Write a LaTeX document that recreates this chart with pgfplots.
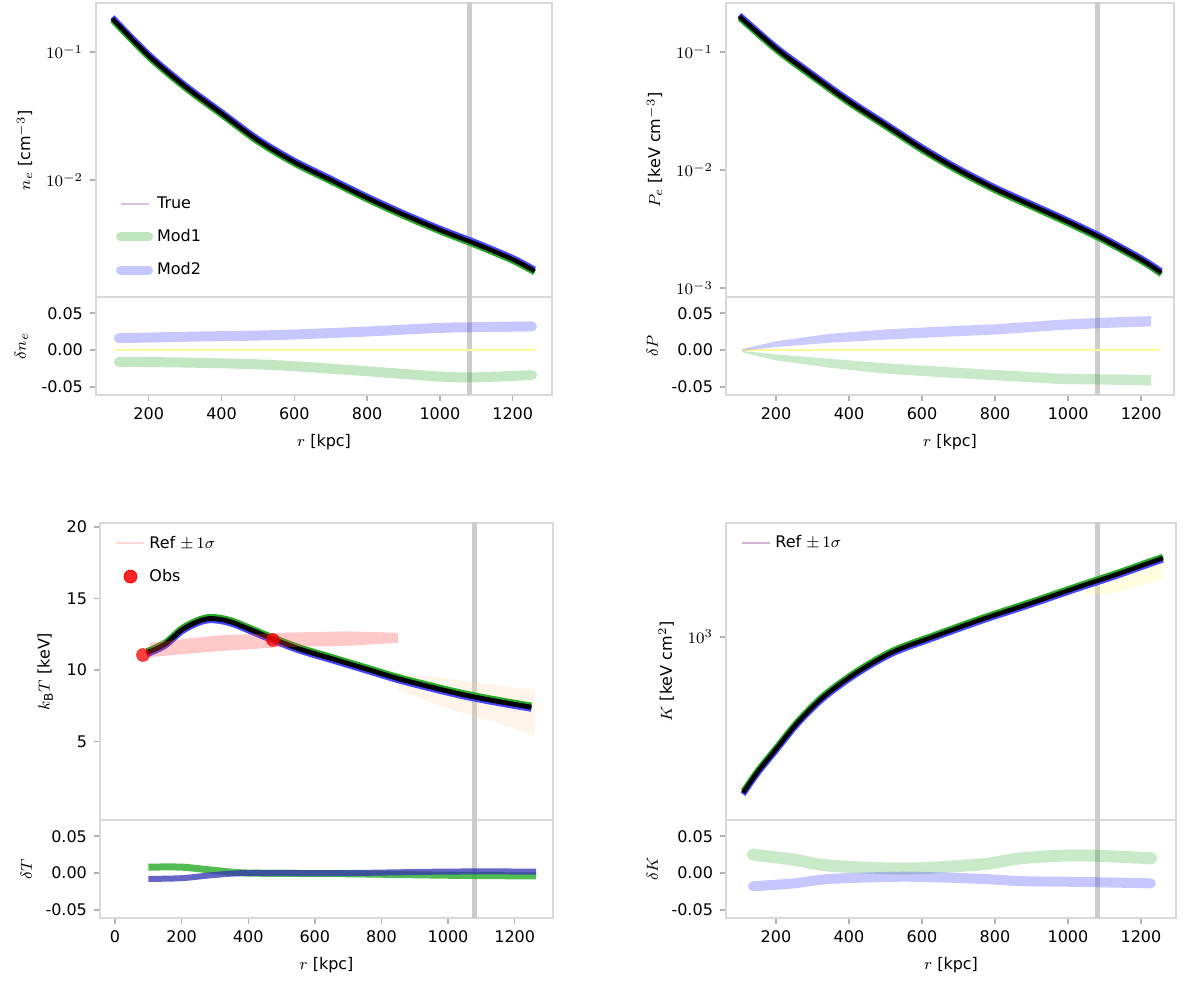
\documentclass[border=0pt]{standalone}
\usepackage{pgfplots}
\pgfplotsset{compat=1.18}
\usepackage{fontspec}
\setmainfont{DejaVu Sans}
\definecolor{gmod}{RGB}{40,170,40}
\definecolor{bmod}{RGB}{70,70,255}
\pgfplotsset{
  base/.style={
    scale only axis,
    font=\fontsize{8}{9.5}\selectfont,
    axis line style={draw=black!15, line width=1.3pt},
    tick style={draw=black!30, line width=0.7pt},
    minor tick style={draw=none},
    tick align=outside,
    major tick length=3pt,
    tick pos=left,
    /pgf/number format/assume math mode=true,
    /pgf/number format/set thousands separator={},
    label style={font=\fontsize{8}{9.5}\selectfont},
    legend style={draw=none, fill=white, fill opacity=0.85, text opacity=1,
      font=\fontsize{8}{9.5}\selectfont, row sep=5pt},
    legend cell align=left,
    legend image code/.code={\draw[#1] (0pt,0pt) -- (14pt,0pt);},
  },
  mainp/.style={base, xtick=\empty},
  ratp/.style={base, ymin=-0.061, ymax=0.072, ytick={-0.05,0,0.05},
     scaled y ticks=false,
     yticklabel style={/pgf/number format/fixed, /pgf/number format/fixed zerofill, /pgf/number format/precision=2},
     xtick={0,200,...,1200}, xlabel={$r$ [kpc]}},
  vline/.style={draw=black!20, line width=2.5pt, forget plot},
}
\begin{document}
\begin{tikzpicture}
\useasboundingbox (0,0) rectangle (600pt,492pt);
\clip (0,0) rectangle (600pt,492pt);

% ---------------- Top left: main ----------------
\begin{axis}[mainp, at={(48pt,343.5pt)}, anchor=south west, width=228pt, height=147pt,
  xmin=55, xmax=1308, ymode=log, ymin=1.22e-3, ymax=0.2415,
  ytick={0.01,0.1}, yticklabels={$10^{-2}$,$10^{-1}$},
  ylabel={$n_e$ [cm$^{-3}$]},
  legend style={at={(0.03,0.37)}, anchor=north west}]
\addplot[vline] coordinates {(1080,1e-4) (1080,1)};
\addplot[smooth, gmod, line width=2.8pt, yshift=-0.8pt, forget plot] coordinates {
(100,0.1820)(200,0.0933)(300,0.0537)(400,0.0331)(500,0.0204)(600,0.0138)(700,0.0100)(800,0.00724)(900,0.00537)(1000,0.00407)(1100,0.00316)(1200,0.00240)(1260,0.00195)};
\addplot[smooth, bmod, line width=2.8pt, yshift=0.8pt, forget plot] coordinates {
(100,0.1820)(200,0.0933)(300,0.0537)(400,0.0331)(500,0.0204)(600,0.0138)(700,0.0100)(800,0.00724)(900,0.00537)(1000,0.00407)(1100,0.00316)(1200,0.00240)(1260,0.00195)};
\addplot[smooth, black, line width=2.2pt, forget plot] coordinates {
(100,0.1820)(200,0.0933)(300,0.0537)(400,0.0331)(500,0.0204)(600,0.0138)(700,0.0100)(800,0.00724)(900,0.00537)(1000,0.00407)(1100,0.00316)(1200,0.00240)(1260,0.00195)};
\addlegendimage{draw=violet!25, line width=1pt}
\addlegendentry{True}
\addlegendimage{draw=gmod, draw opacity=0.3, line width=4.5pt, line cap=round}
\addlegendentry{Mod1}
\addlegendimage{draw=bmod, draw opacity=0.3, line width=4.5pt, line cap=round}
\addlegendentry{Mod2}
\end{axis}
% ---------------- Top left: ratio ----------------
\begin{axis}[ratp, at={(48pt,343.5pt)}, anchor=north west, width=228pt, height=49pt,
  xmin=55, xmax=1308, ylabel={$\delta n_e$}]
\addplot[vline] coordinates {(1080,-1) (1080,1)};
\addplot[draw=yellow!40, line width=0.8pt, forget plot] coordinates {(110,0)(1260,0)};
\addplot[smooth, draw=gmod, draw opacity=0.28, line width=5pt, line cap=round, forget plot] coordinates {
(118,-0.016)(300,-0.017)(527,-0.020)(750,-0.027)(1000,-0.036)(1100,-0.037)(1253,-0.034)};
\addplot[smooth, draw=bmod, draw opacity=0.3, line width=5pt, line cap=round, forget plot] coordinates {
(118,0.016)(300,0.018)(527,0.020)(750,0.024)(1000,0.030)(1100,0.031)(1253,0.032)};
\end{axis}

% ---------------- Top right: main ----------------
\begin{axis}[mainp, at={(363pt,343.5pt)}, anchor=south west, width=224pt, height=147pt,
  xmin=63, xmax=1290, ymode=log, ymin=8.4e-4, ymax=0.26,
  ytick={0.001,0.01,0.1}, yticklabels={$10^{-3}$,$10^{-2}$,$10^{-1}$},
  ylabel={$P_e$ [keV cm$^{-3}$]}]
\addplot[vline] coordinates {(1080,1e-4) (1080,1)};
\addplot[smooth, gmod, line width=2.8pt, yshift=-0.8pt, forget plot] coordinates {
(100,0.1995)(200,0.1072)(300,0.0631)(400,0.0380)(500,0.0240)(600,0.01514)(700,0.0100)(800,0.00692)(900,0.00501)(1000,0.00363)(1100,0.00257)(1200,0.00174)(1255,0.00135)};
\addplot[smooth, bmod, line width=2.8pt, yshift=0.8pt, forget plot] coordinates {
(100,0.1995)(200,0.1072)(300,0.0631)(400,0.0380)(500,0.0240)(600,0.01514)(700,0.0100)(800,0.00692)(900,0.00501)(1000,0.00363)(1100,0.00257)(1200,0.00174)(1255,0.00135)};
\addplot[smooth, black, line width=2.2pt, forget plot] coordinates {
(100,0.1995)(200,0.1072)(300,0.0631)(400,0.0380)(500,0.0240)(600,0.01514)(700,0.0100)(800,0.00692)(900,0.00501)(1000,0.00363)(1100,0.00257)(1200,0.00174)(1255,0.00135)};
\end{axis}
% ---------------- Top right: ratio ----------------
\begin{axis}[ratp, at={(363pt,343.5pt)}, anchor=north west, width=224pt, height=49pt,
  xmin=63, xmax=1290, ylabel={$\delta P$}]
\addplot[vline] coordinates {(1080,-1) (1080,1)};
\addplot[draw=yellow!40, line width=0.8pt, forget plot] coordinates {(110,0)(1250,0)};
\addplot[fill=gmod, fill opacity=0.25, draw=none, forget plot] coordinates {
(107,-0.001)(200,-0.006)(348,-0.012)(500,-0.018)(660,-0.023)(800,-0.027)(975,-0.032)(1100,-0.033)(1227,-0.034)
(1227,-0.048)(1100,-0.047)(975,-0.046)(800,-0.041)(660,-0.037)(500,-0.032)(348,-0.024)(200,-0.014)(107,-0.003)} -- cycle;
\addplot[fill=bmod, fill opacity=0.28, draw=none, forget plot] coordinates {
(107,0.001)(200,0.012)(348,0.022)(500,0.028)(660,0.032)(800,0.035)(975,0.041)(1100,0.044)(1227,0.046)
(1227,0.032)(1100,0.030)(975,0.027)(800,0.021)(660,0.018)(500,0.014)(348,0.010)(200,0.004)(107,-0.001)} -- cycle;
\end{axis}

% ---------------- Bottom left: main ----------------
\begin{axis}[mainp, at={(50pt,82pt)}, anchor=south west, width=226.5pt, height=148.5pt,
  xmin=-45, xmax=1315, ymin=-0.49, ymax=20.28, ytick={5,10,15,20},
  ylabel={$k_{\rm B}T$ [keV]},
  legend style={at={(0.02,0.985)}, anchor=north west}]
\addplot[vline] coordinates {(1080,-5) (1080,30)};
\addplot[fill=orange!40, fill opacity=0.22, draw=none, forget plot] coordinates {
(850,9.8)(1000,9.4)(1150,8.9)(1260,8.6)(1260,5.4)(1150,6.3)(1000,7.3)(850,8.6)} -- cycle;
\addplot[smooth, gmod, line width=3pt, yshift=0.8pt, forget plot] coordinates {
(95,11.2)(150,11.8)(200,12.8)(250,13.4)(290,13.6)(350,13.35)(450,12.4)(550,11.5)(650,10.8)(750,10.1)(850,9.4)(950,8.8)(1050,8.25)(1150,7.8)(1250,7.4)};
\addplot[smooth, bmod, line width=3pt, yshift=-0.8pt, forget plot] coordinates {
(95,11.2)(150,11.8)(200,12.8)(250,13.4)(290,13.6)(350,13.35)(450,12.4)(550,11.5)(650,10.8)(750,10.1)(850,9.4)(950,8.8)(1050,8.25)(1150,7.8)(1250,7.4)};
\addplot[smooth, black, line width=2.4pt, forget plot] coordinates {
(95,11.2)(150,11.8)(200,12.8)(250,13.4)(290,13.6)(350,13.35)(450,12.4)(550,11.5)(650,10.8)(750,10.1)(850,9.4)(950,8.8)(1050,8.25)(1150,7.8)(1250,7.4)};
\addplot[fill=red!70, fill opacity=0.3, draw=none, forget plot] coordinates {
(105,11.9)(300,12.4)(500,12.6)(700,12.7)(850,12.6)(850,11.9)(700,11.7)(500,11.6)(300,11.3)(105,10.9)} -- cycle;
\addplot[only marks, mark=*, mark size=3.2pt, red, opacity=0.75, forget plot] coordinates {(84,11.05) (474,12.1)};
\addlegendimage{draw=pink!60, line width=1pt}
\addlegendentry{Ref $\pm\,1\sigma$}
\addlegendimage{legend image code/.code={\fill[red] (7pt,0pt) circle (3.2pt);}}
\addlegendentry{Obs}
\end{axis}
% ---------------- Bottom left: ratio ----------------
\begin{axis}[ratp, at={(50pt,82pt)}, anchor=north west, width=226.5pt, height=49pt,
  xmin=-45, xmax=1315, ylabel={$\delta T$}]
\addplot[vline] coordinates {(1080,-1) (1080,1)};
\addplot[smooth, draw=gmod, draw opacity=0.8, line width=3.5pt, forget plot] coordinates {
(100,0.008)(200,0.008)(290,0.004)(400,0.0)(700,-0.001)(1000,-0.003)(1264,-0.004)};
\addplot[smooth, draw=bmod!70!black, draw opacity=0.75, line width=3pt, forget plot] coordinates {
(100,-0.008)(200,-0.007)(290,-0.003)(400,0.0)(700,0.0)(1000,0.002)(1264,0.002)};
\end{axis}

% ---------------- Bottom right: main ----------------
\begin{axis}[mainp, at={(363pt,82pt)}, anchor=south west, width=225pt, height=148.5pt,
  xmin=63, xmax=1296, ymode=log, ymin=245, ymax=2399,
  ytick={1000}, yticklabels={$10^{3}$},
  ylabel={$K$ [keV cm$^{2}$]},
  legend style={at={(0.02,0.985)}, anchor=north west}]
\addplot[vline] coordinates {(1080,10) (1080,1e4)};
\addplot[fill=yellow!50, fill opacity=0.25, draw=none, forget plot] coordinates {
(1050,1500)(1130,1611)(1260,1832)(1260,1560)(1130,1400)(1050,1380)} -- cycle;
\addplot[smooth, gmod, line width=2.8pt, yshift=0.8pt, forget plot] coordinates {
(110,302)(150,355)(200,422)(260,519)(330,631)(420,759)(520,891)(630,1000)(760,1140)(900,1297)(1030,1469)(1130,1611)(1260,1832)};
\addplot[smooth, bmod, line width=2.8pt, yshift=-0.8pt, forget plot] coordinates {
(110,302)(150,355)(200,422)(260,519)(330,631)(420,759)(520,891)(630,1000)(760,1140)(900,1297)(1030,1469)(1130,1611)(1260,1832)};
\addplot[smooth, black, line width=2.2pt, forget plot] coordinates {
(110,302)(150,355)(200,422)(260,519)(330,631)(420,759)(520,891)(630,1000)(760,1140)(900,1297)(1030,1469)(1130,1611)(1260,1832)};
\addlegendimage{draw=violet!30, line width=1pt}
\addlegendentry{Ref $\pm\,1\sigma$}
\end{axis}
% ---------------- Bottom right: ratio ----------------
\begin{axis}[ratp, at={(363pt,82pt)}, anchor=north west, width=225pt, height=49pt,
  xmin=63, xmax=1296, ylabel={$\delta K$}]
\addplot[vline] coordinates {(1080,-1) (1080,1)};
\addplot[smooth, draw=gmod, draw opacity=0.25, line width=6pt, line cap=round, forget plot] coordinates {
(137,0.025)(250,0.018)(348,0.010)(556,0.006)(767,0.012)(871,0.020)(1027,0.024)(1227,0.020)};
\addplot[smooth, draw=bmod, draw opacity=0.3, line width=5pt, line cap=round, forget plot] coordinates {
(137,-0.018)(250,-0.014)(348,-0.008)(556,-0.005)(767,-0.008)(871,-0.011)(1027,-0.012)(1227,-0.014)};
\end{axis}
\end{tikzpicture}
\end{document}
